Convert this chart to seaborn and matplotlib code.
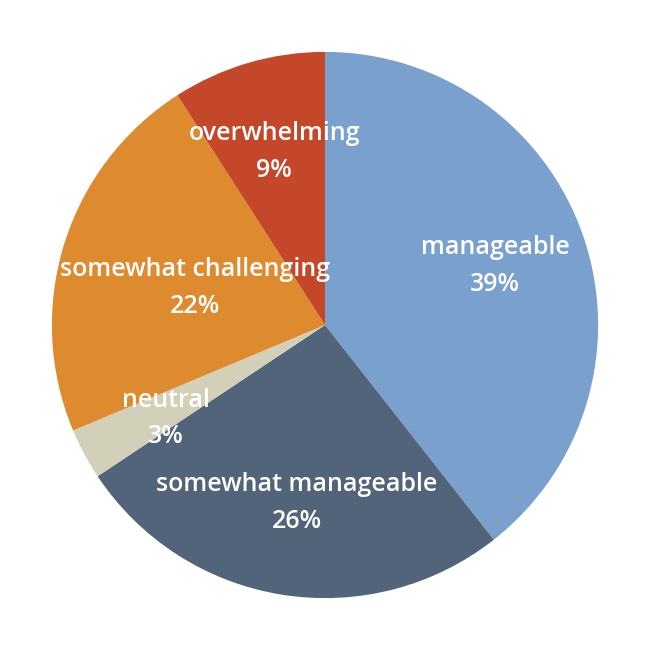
import matplotlib
matplotlib.use("Agg")
import matplotlib.pyplot as plt
import seaborn as sns

categories = ["manageable", "somewhat manageable", "neutral",
              "somewhat challenging", "overwhelming"]
percent = [39, 26, 3, 22, 9]
colors = ["#7aa0cd", "#526479", "#d2d0b8", "#de8a2f", "#c4472a"]

sns.set_theme(style="white")
plt.rcParams["font.family"] = ["Open Sans", "DejaVu Sans"]

labels = [f"{c}\n{p}%" for c, p in zip(categories, percent)]

fig = plt.figure(figsize=(6.5, 6.5), dpi=100)
ax = fig.add_axes([0, 0, 1, 1])
wedges, texts = ax.pie(
    percent,
    labels=labels,
    colors=sns.color_palette(colors),
    startangle=90,
    counterclock=False,
    labeldistance=0.66,
    textprops=dict(color="white", fontsize=18, fontweight=600,
                   ha="center", va="center", linespacing=1.6),
    wedgeprops=dict(linewidth=0),
)
# the long label is pushed inward so it stays inside the pie
x, y = texts[3].get_position()
texts[3].set_position((x + 0.155, y - 0.06))
x, y = texts[2].get_position()
texts[2].set_position((x, y - 0.03))

ax.set_xlim(-1.19, 1.19)
ax.set_ylim(-1.19, 1.19)
ax.set_aspect("equal")
ax.axis("off")

fig.savefig("out.png", dpi=100, facecolor="white")
